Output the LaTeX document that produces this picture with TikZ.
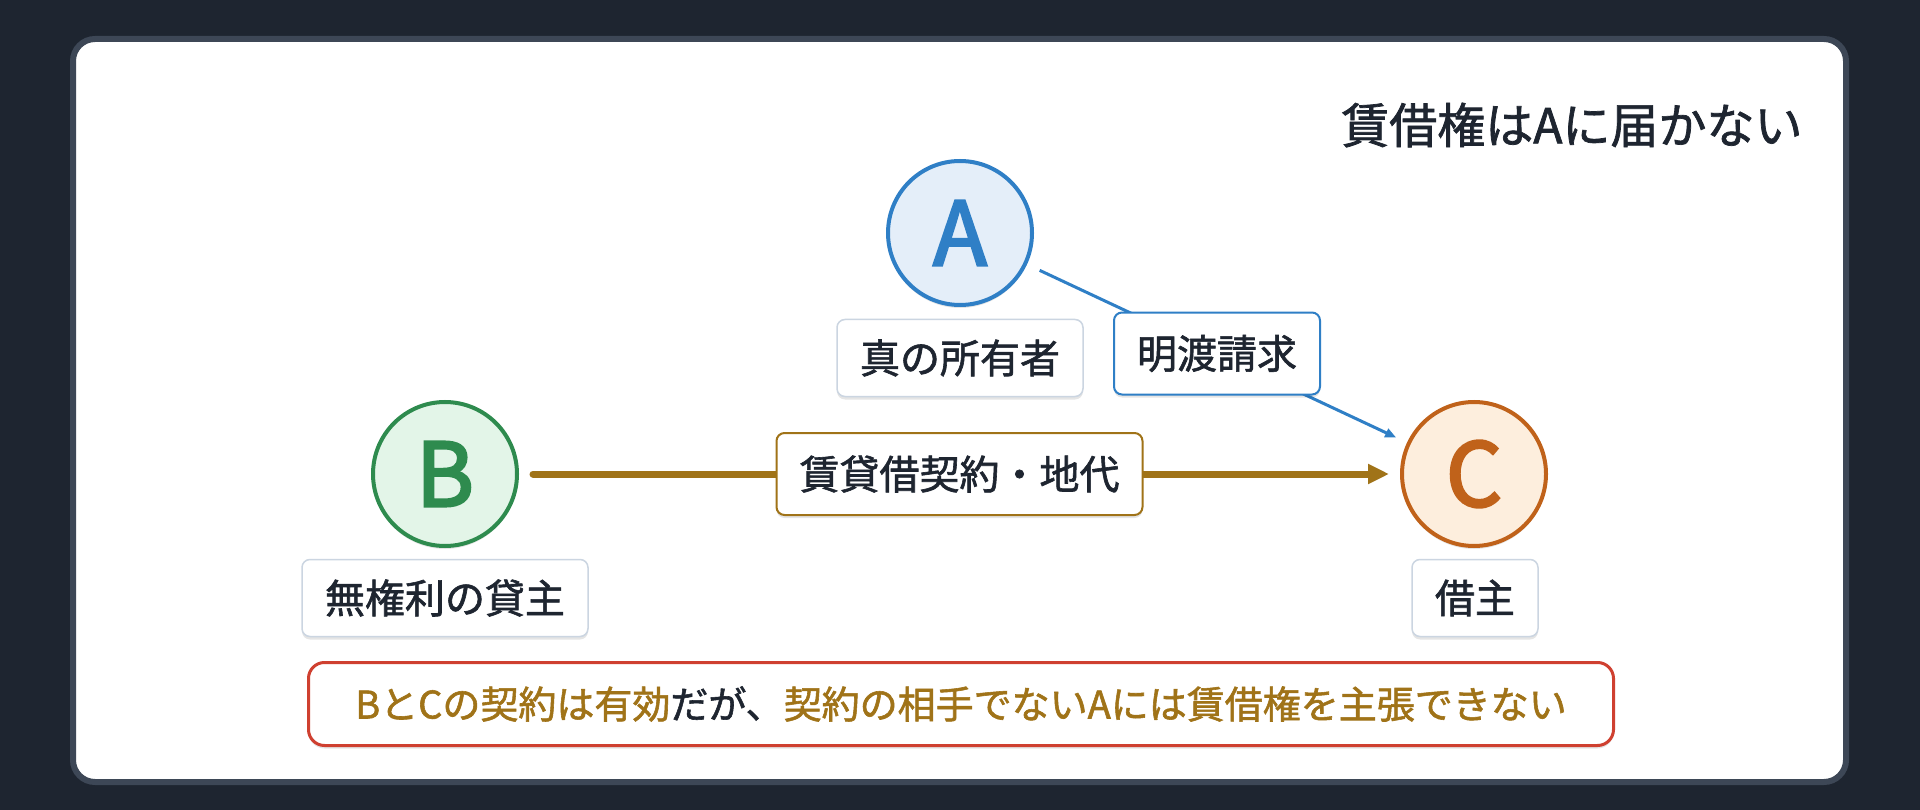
\documentclass[tikz,border=0pt]{standalone}
\usepackage{fontspec}
\setmainfont{Noto Sans CJK JP}[FakeBold=1.5]
\newfontfamily\letterfont{Noto Sans CJK JP}[FakeBold=3]
\usetikzlibrary{arrows.meta,shadows}

\definecolor{bgdark}{HTML}{1E2530}
\definecolor{panelrim}{HTML}{3D4756}
\definecolor{ownerblue}{HTML}{2F7FC6}
\definecolor{ownerfill}{HTML}{E4EEF9}
\definecolor{lendgreen}{HTML}{2E8B4E}
\definecolor{lendfill}{HTML}{E3F5E8}
\definecolor{tenantorange}{HTML}{C0621A}
\definecolor{tenantfill}{HTML}{FDEEDD}
\definecolor{rentbrown}{HTML}{A07318}
\definecolor{warnred}{HTML}{CF4030}
\definecolor{tagrim}{HTML}{CBD5E1}
\definecolor{inkdark}{HTML}{1E2530}

\tikzset{
	softshadow/.style={drop shadow={shadow xshift=0pt, shadow yshift=-3pt, opacity=0.10, fill=black}},
	party/.style={circle, line width=4pt, minimum size=144pt, inner sep=0pt, outer sep=2pt, softshadow, font=\letterfont\fontsize{88}{88}\selectfont},
	roletag/.style={draw=tagrim, line width=1.5pt, fill=white, rounded corners=8pt, minimum height=77pt, inner xsep=23pt, inner ysep=0pt, text=inkdark, softshadow, font=\fontsize{40}{48}\selectfont},
	edgetag/.style={fill=white, line width=2pt, rounded corners=8pt, minimum height=82pt, inner xsep=23pt, inner ysep=0pt, text=inkdark, softshadow, font=\fontsize{40}{48}\selectfont},
	claim/.style={draw=ownerblue, line width=3pt, -{Triangle[length=11pt,width=9pt]}, shorten <=14pt, shorten >=12pt},
	lease/.style={draw=rentbrown, line width=7pt, line cap=round, -{Triangle[length=21pt,width=19pt]}, shorten <=14pt, shorten >=11pt},
}

\begin{document}
\begin{tikzpicture}[x=1pt, y=-1pt]
			%%%%% START %%%%%
			
			\fill[bgdark] (0, 0) rectangle (1920, 810);
			\useasboundingbox (0, 0) rectangle (1920, 810);
			\draw[line width=6pt, draw=panelrim, fill=white, rounded corners=22pt] (73, 39) rectangle (1846, 782);
			
			\node[anchor=east, text=inkdark, font=\fontsize{48}{56}\selectfont] (title) at (1806, 125) {賃借権はAに届かない};
			
			\node[party, draw=ownerblue, fill=ownerfill, text=ownerblue] (A) at (960, 233) {A};
			\node[party, draw=lendgreen, fill=lendfill, text=lendgreen] (B) at (445, 474) {B};
			\node[party, draw=tenantorange, fill=tenantfill, text=tenantorange] (C) at (1474, 474) {C};
			
			\node[roletag] (Atag) at (960, 358) {真の所有者};
			\node[roletag] (Btag) at (445, 598) {無権利の貸主};
			\node[roletag] (Ctag) at (1475, 598) {借主};
			
			\draw[claim] (A) -- node[edgetag, draw=ownerblue] (claimtag) {明渡請求} (C);
			\draw[lease] (B) -- node[edgetag, draw=rentbrown] (leasetag) {賃貸借契約・地代} (C);
			
			\node[draw=warnred, line width=3pt, fill=white, rounded corners=16pt, minimum width=1305pt, minimum height=83pt, softshadow, font=\fontsize{38}{44}\selectfont, text=rentbrown] (note) at (961, 704) {BとCの契約は有効\textcolor{inkdark}{だが、}契約の相手でないAには賃借権を主張できない};
			
			%%%%% END %%%%%
\end{tikzpicture}
\end{document}
